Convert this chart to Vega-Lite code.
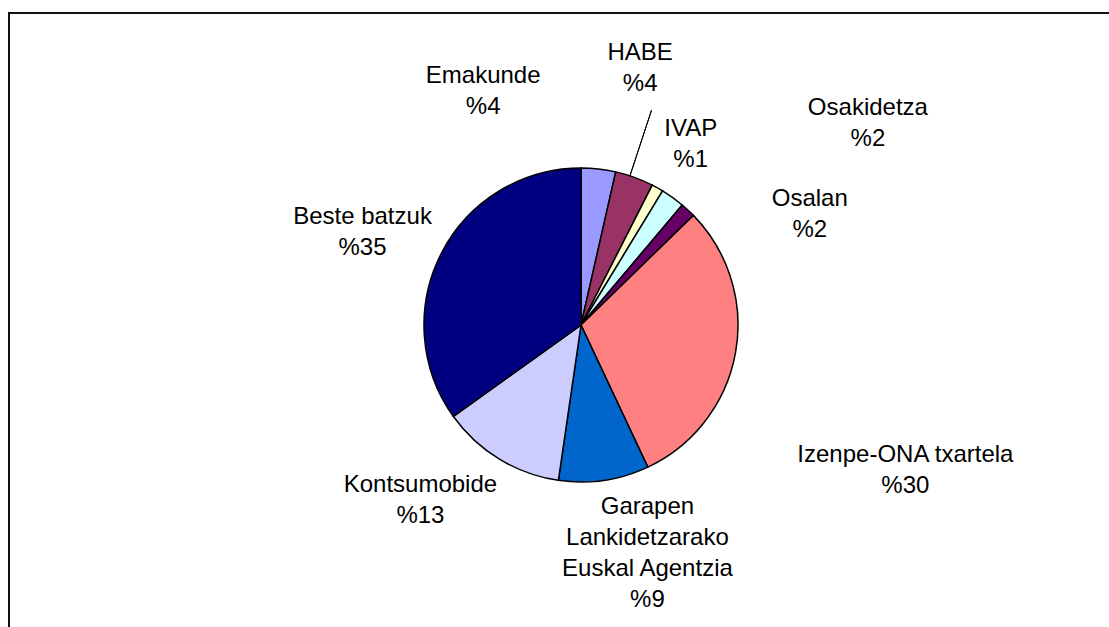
{
  "$schema": "https://vega.github.io/schema/vega-lite/v6.json",
  "width": 1144,
  "height": 624,
  "autosize": {"type": "none"},
  "padding": {"left": 9, "top": 13, "right": -44, "bottom": -10},
  "background": "white",
  "config": {"view": {"stroke": null}},
  "layer": [
    {
      "data": {"values": [{"frame": "chart area top"}]},
      "mark": {"type": "rule", "stroke": "#111111", "strokeWidth": 2},
      "encoding": {
        "x": {"value": -1},
        "x2": {"value": {"expr": "width - 44"}},
        "y": {"value": 0}
      }
    },
    {
      "data": {"values": [{"frame": "chart area left"}]},
      "mark": {"type": "rule", "stroke": "#111111", "strokeWidth": 2},
      "encoding": {
        "x": {"value": 0},
        "y": {"value": -1},
        "y2": {"value": {"expr": "height - 10"}}
      }
    },
    {
      "data": {
        "values": [
          {"order": 1, "name": "Emakunde", "value": 3.55, "label": "Emakunde\n%4"},
          {"order": 2, "name": "HABE", "value": 3.95, "label": "HABE\n%4"},
          {"order": 3, "name": "IVAP", "value": 1.2, "label": "IVAP\n%1"},
          {"order": 4, "name": "Osakidetza", "value": 2.45, "label": "Osakidetza\n%2"},
          {"order": 5, "name": "Osalan", "value": 1.55, "label": "Osalan\n%2"},
          {"order": 6, "name": "Izenpe-ONA txartela", "value": 30.3, "label": "Izenpe-ONA txartela\n%30"},
          {"order": 7, "name": "Garapen Lankidetzarako Euskal Agentzia", "value": 9.3, "label": "Garapen\nLankidetzarako\nEuskal Agentzia\n%9"},
          {"order": 8, "name": "Kontsumobide", "value": 12.8, "label": "Kontsumobide\n%13"},
          {"order": 9, "name": "Beste batzuk", "value": 34.9, "label": "Beste batzuk\n%35"}
        ]
      },
      "encoding": {
        "theta": {"field": "value", "type": "quantitative", "stack": true},
        "order": {"field": "order", "type": "quantitative"},
        "detail": {"field": "name", "type": "nominal"}
      },
      "layer": [
        {
          "mark": {"type": "arc", "outerRadius": 157, "stroke": "black", "strokeWidth": 1.5},
          "encoding": {
            "color": {
              "field": "name",
              "type": "nominal",
              "legend": null,
              "scale": {
                "domain": ["Emakunde", "HABE", "IVAP", "Osakidetza", "Osalan", "Izenpe-ONA txartela", "Garapen Lankidetzarako Euskal Agentzia", "Kontsumobide", "Beste batzuk"],
                "range": ["#9999FF", "#993366", "#FFFFCC", "#CCFFFF", "#660066", "#FF8080", "#0066CC", "#CCCCFF", "#000080"]
              }
            }
          }
        },
        {
          "mark": {"type": "arc", "innerRadius": 157, "outerRadius": 226, "padAngle": 3.14, "thetaOffset": -0.03, "theta2Offset": -0.03, "fill": "white", "fillOpacity": 0, "stroke": "black", "strokeWidth": 1},
          "encoding": {
            "strokeOpacity": {"condition": {"test": "datum.name === 'HABE'", "value": 1}, "value": 0}
          }
        },
        {
          "mark": {"type": "text", "radius": 262, "dx": -127, "dy": 18, "font": "Liberation Sans", "fontSize": 24, "align": "center", "baseline": "alphabetic", "lineBreak": "\n", "lineHeight": 31, "color": "black"},
          "encoding": {"text": {"field": "label"}, "opacity": {"condition": {"test": "datum.name === 'Emakunde'", "value": 1}, "value": 0}}
        },
        {
          "mark": {"type": "text", "radius": 271, "dx": -33, "dy": -10, "font": "Liberation Sans", "fontSize": 24, "align": "center", "baseline": "alphabetic", "lineBreak": "\n", "lineHeight": 31, "color": "black"},
          "encoding": {"text": {"field": "label"}, "opacity": {"condition": {"test": "datum.name === 'HABE'", "value": 1}, "value": 0}}
        },
        {
          "mark": {"type": "text", "radius": 219, "dx": 3, "dy": 2, "font": "Liberation Sans", "fontSize": 24, "align": "center", "baseline": "alphabetic", "lineBreak": "\n", "lineHeight": 31, "color": "black"},
          "encoding": {"text": {"field": "label"}, "opacity": {"condition": {"test": "datum.name === 'IVAP'", "value": 1}, "value": 0}}
        },
        {
          "mark": {"type": "text", "radius": 356, "dx": 79, "dy": 79, "font": "Liberation Sans", "fontSize": 24, "align": "center", "baseline": "alphabetic", "lineBreak": "\n", "lineHeight": 31, "color": "black"},
          "encoding": {"text": {"field": "label"}, "opacity": {"condition": {"test": "datum.name === 'Osakidetza'", "value": 1}, "value": 0}}
        },
        {
          "mark": {"type": "text", "radius": 258, "dx": 53, "dy": 70, "font": "Liberation Sans", "fontSize": 24, "align": "center", "baseline": "alphabetic", "lineBreak": "\n", "lineHeight": 31, "color": "black"},
          "encoding": {"text": {"field": "label"}, "opacity": {"condition": {"test": "datum.name === 'Osalan'", "value": 1}, "value": 0}}
        },
        {
          "mark": {"type": "text", "radius": 352, "dx": -22, "dy": 74, "font": "Liberation Sans", "fontSize": 24, "align": "center", "baseline": "alphabetic", "lineBreak": "\n", "lineHeight": 31, "color": "black"},
          "encoding": {"text": {"field": "label"}, "opacity": {"condition": {"test": "datum.name === 'Izenpe-ONA txartela'", "value": 1}, "value": 0}}
        },
        {
          "mark": {"type": "text", "radius": 200, "dx": 37, "dy": -9, "font": "Liberation Sans", "fontSize": 24, "align": "center", "baseline": "alphabetic", "lineBreak": "\n", "lineHeight": 31, "color": "black"},
          "encoding": {"text": {"field": "label"}, "opacity": {"condition": {"test": "datum.name === 'Garapen Lankidetzarako Euskal Agentzia'", "value": 1}, "value": 0}}
        },
        {
          "mark": {"type": "text", "radius": 232, "dx": -40, "dy": -31, "font": "Liberation Sans", "fontSize": 24, "align": "center", "baseline": "alphabetic", "lineBreak": "\n", "lineHeight": 31, "color": "black"},
          "encoding": {"text": {"field": "label"}, "opacity": {"condition": {"test": "datum.name === 'Kontsumobide'", "value": 1}, "value": 0}}
        },
        {
          "mark": {"type": "text", "radius": 240, "dx": -5, "dy": 9, "font": "Liberation Sans", "fontSize": 24, "align": "center", "baseline": "alphabetic", "lineBreak": "\n", "lineHeight": 31, "color": "black"},
          "encoding": {"text": {"field": "label"}, "opacity": {"condition": {"test": "datum.name === 'Beste batzuk'", "value": 1}, "value": 0}}
        }
      ]
    }
  ]
}
